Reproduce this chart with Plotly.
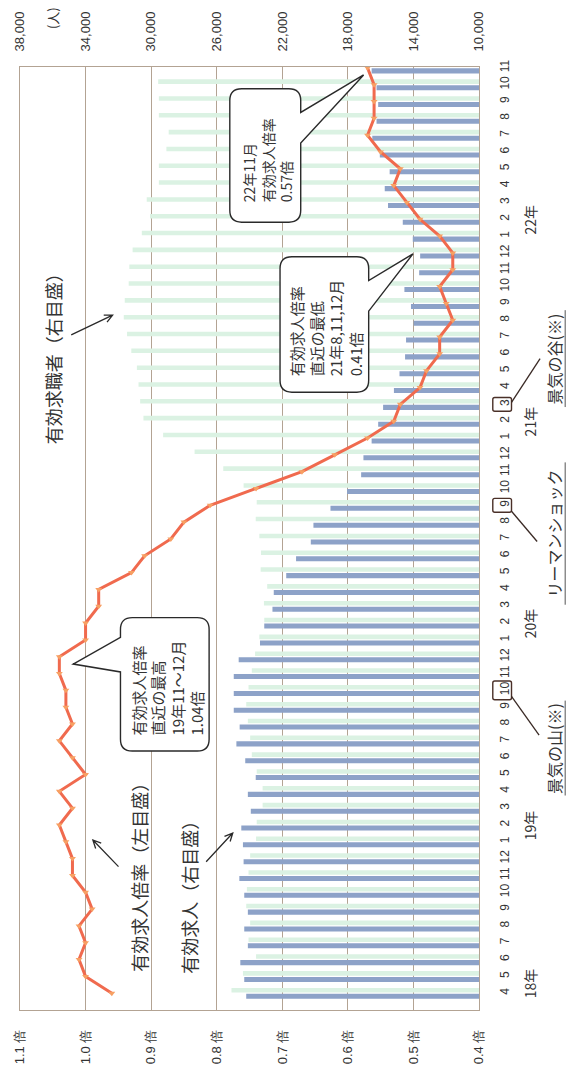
import plotly.graph_objects as go
import math

# ---------------- data ----------------
month_labels = [str(m) for m in list(range(4, 13)) + list(range(1, 13)) * 3 + list(range(1, 12))]
year_labels = ["18年", "19年", "20年", "21年", "22年"]
year_pos = [0.6, 10, 22, 34, 46]

ratio = [0.96, 1.00, 1.01, 1.00, 1.01, 0.99, 1.00, 1.02, 1.02, 1.03, 1.04, 1.02, 1.04, 1.00,
         1.02, 1.04, 1.02, 1.03, 1.03, 1.04, 1.04, 1.00, 1.00, 0.98, 0.98, 0.93, 0.91, 0.87,
         0.85, 0.81, 0.74, 0.67, 0.62, 0.57, 0.53, 0.52, 0.49, 0.48, 0.46, 0.46, 0.44, 0.45,
         0.46, 0.44, 0.44, 0.46, 0.49, 0.51, 0.53, 0.52, 0.55, 0.57, 0.56, 0.56, 0.56, 0.57]

openings = [24200, 24320, 24560, 24100, 24320, 24100, 24320, 24620, 24360, 24400, 24500, 23920,
            24100, 23620, 24260, 24800, 24600, 24960, 24960, 24960, 24660, 23360, 23100, 22600,
            22520, 21760, 21160, 20260, 20100, 19060, 18050, 17190, 17050, 16550, 16150, 15850,
            15190, 14850, 14510, 14450, 13990, 14150, 14550, 13650, 13590, 14040, 14650, 15550,
            15750, 15450, 16050, 16510, 16250, 16150, 16250, 16550]

seekers = [25100, 24400, 23600, 24060, 23960, 24200, 24160, 24060, 23960, 23600, 23560, 23200,
           23200, 23560, 23860, 23960, 24100, 24200, 24060, 23860, 23660, 23400, 23100, 23120,
           22920, 23320, 23300, 23400, 23620, 23560, 24360, 25600, 27350, 29270, 30470, 30670,
           30770, 30870, 31210, 31470, 31670, 31610, 31370, 31330, 31130, 30570, 30070, 30270,
           29530, 29530, 29070, 28930, 29530, 29530, 29570, None]

people_ticks = [38000, 34000, 30000, 26000, 22000, 18000, 14000, 10000]
ratio_ticks = [1.1, 1.0, 0.9, 0.8, 0.7, 0.6, 0.5, 0.4]

idx = list(range(len(month_labels)))

# ---------------- layout geometry (pixels) ----------------
W, H = 568, 1076
L, R, T, B = 13, 479, 66, 1020
PW, PH = R - L, B - T
Y_BOTTOM, Y_TOP = -0.997, 55.05
STEP = PH / (Y_TOP - Y_BOTTOM)
INK = "#333333"
FRAME = "#b3a393"
JP = "Noto Sans CJK JP"
NUM = "Liberation Sans"


def px(x, y):
    return (x - L) / PW, (B - y) / PH


def ypix(i):
    return B - (i - Y_BOTTOM) * STEP


def path_str(cmds_list):
    out = []
    for cmd in cmds_list:
        s = cmd[0]
        nums = cmd[1:]
        for k in range(0, len(nums), 2):
            xp, yp = px(nums[k], nums[k + 1])
            s += f" {xp:.5f},{yp:.5f}"
        out.append(s)
    return " ".join(out)


def callout(x0, y0, x1, y1, r, side, t1, t2, tip):
    cmds = [("M", x0 + r, y0), ("L", x1 - r, y0), ("Q", x1, y0, x1, y0 + r)]
    if side == "right":
        cmds += [("L", x1, t1), ("L", tip[0], tip[1]), ("L", x1, t2)]
    cmds += [("L", x1, y1 - r), ("Q", x1, y1, x1 - r, y1), ("L", x0 + r, y1),
             ("Q", x0, y1, x0, y1 - r)]
    if side == "left":
        cmds += [("L", x0, t2), ("L", tip[0], tip[1]), ("L", x0, t1)]
    cmds += [("L", x0, y0 + r), ("Q", x0, y0, x0 + r, y0)]
    return dict(type="path", xref="paper", yref="paper", path=path_str(cmds) + " Z",
                line=dict(color="#2a2a2a", width=1.4), fillcolor="white", layer="above")


def varrow(tx, ty, hx, hy, size=9):
    ang = math.atan2(ty - hy, tx - hx)
    w1 = (hx + size * math.cos(ang + 0.45), hy + size * math.sin(ang + 0.45))
    w2 = (hx + size * math.cos(ang - 0.45), hy + size * math.sin(ang - 0.45))
    cmds = [("M", tx, ty), ("L", hx, hy), ("M", w1[0], w1[1]), ("L", hx, hy), ("L", w2[0], w2[1])]
    return dict(type="path", xref="paper", yref="paper", path=path_str(cmds),
                line=dict(color="#2a2a2a", width=1.3), layer="above")


def seg(x0, y0, x1, y1, color="#3a2a25", width=1.3):
    a, b = px(x0, y0)
    c, d = px(x1, y1)
    return dict(type="line", xref="paper", yref="paper", x0=a, y0=b, x1=c, y1=d,
                line=dict(color=color, width=width), layer="above")


def rbox(x0, y0, x1, y1):
    cmds = [("M", x0 + 2, y0), ("L", x1 - 2, y0), ("Q", x1, y0, x1, y0 + 2), ("L", x1, y1 - 2),
            ("Q", x1, y1, x1 - 2, y1), ("L", x0 + 2, y1), ("Q", x0, y1, x0, y1 - 2),
            ("L", x0, y0 + 2), ("Q", x0, y0, x0 + 2, y0)]
    return dict(type="path", xref="paper", yref="paper", path=path_str(cmds) + " Z",
                line=dict(color="#4a3028", width=1.4), layer="above")


def text_at(x, y, text, size, align="center", family=JP):
    xp, yp = px(x, y)
    return dict(x=xp, y=yp, xref="paper", yref="paper", text=text, showarrow=False,
                textangle=-90, xanchor="center", yanchor="middle", align=align,
                font=dict(family=family, size=size, color=INK))


# ---------------- traces ----------------
fig = go.Figure()
fig.add_trace(go.Bar(y=idx, x=seekers, orientation="h", xaxis="x", yaxis="y",
                     marker=dict(color="#dbf2e3", line=dict(width=0)),
                     width=0.27, offset=0.045, name="有効求職者"))
fig.add_trace(go.Bar(y=idx, x=openings, orientation="h", xaxis="x", yaxis="y",
                     marker=dict(color="#8da2c8", line=dict(width=0)),
                     width=0.30, offset=-0.33, name="有効求人"))
fig.add_trace(go.Scatter(y=idx, x=ratio, xaxis="x2", yaxis="y", mode="lines+markers",
                         line=dict(color="#f06a4e", width=3),
                         marker=dict(symbol="triangle-down", size=6, color="#f7a063"),
                         cliponaxis=False, name="有効求人倍率"))

# ---------------- shapes ----------------
shapes = []
tip1 = (L + (1.1 - ratio[-1]) / 0.7 * PW - 4, 74)
shapes.append(callout(226, 88, 298, 223, 12, "right", 112, 143, tip1))
shapes.append(callout(277, 258, 367, 395, 12, "right", 282, 313, (412, 255)))
shapes.append(callout(115, 623, 205, 758, 12, "left", 643, 678, (67, 670)))
shapes.append(varrow(65, 337, 107, 317))
shapes.append(varrow(113, 875, 87, 848))
shapes.append(varrow(202, 870, 229, 841))
# right-side boxes around months (21年3, 20年9, 19年10)
for i_mark, half, line_end in [(35, 9.5, (541, 361)), (29, 9, (538, 546)), (18, 10, (540, 742))]:
    yc = ypix(i_mark)
    shapes.append(rbox(493, yc - 7 if half < 10 else yc - 9.5, 512, yc + 7 if half < 10 else yc + 9.5))
    yl = yc - 2 if line_end[1] < yc else yc + 6
    shapes.append(seg(512, yl, line_end[0], line_end[1]))
# underlines
shapes.append(seg(566.5, 312, 566.5, 410, color="#555555", width=1))
shapes.append(seg(566.5, 466, 566.5, 610, color="#555555", width=1))
shapes.append(seg(566.5, 707, 566.5, 803, color="#555555", width=1))

# ---------------- annotations ----------------
ann = []
ann.append(text_at(46, 357, "有効求職者（右目盛）", 18))
ann.append(text_at(133, 881, "有効求人倍率（左目盛）", 18))
ann.append(text_at(185, 901, "有効求人（右目盛）", 18))
ann.append(text_at(264, 160, "22年11月<br>有効求人倍率<br>0.57倍", 14, align="left"))
ann.append(text_at(324, 330, "有効求人倍率<br>直近の最低<br>21年8,11,12月<br>0.41倍", 15, align="left"))
ann.append(text_at(163, 694, "有効求人倍率<br>直近の最高<br>19年11～12月<br>1.04倍", 15, align="left"))
ann.append(text_at(555, 361, "景気の谷(※)", 16))
ann.append(text_at(555, 538, "リーマンショック", 16))
ann.append(text_at(555, 755, "景気の山(※)", 16))
ann.append(text_at(46, 17, "(人)", 13))
for lab, pos in zip(year_labels, year_pos):
    ann.append(text_at(531, ypix(pos), lab, 14))

fig.update_layout(
    width=W, height=H,
    margin=dict(l=L, r=W - R, t=T, b=H - B, pad=0),
    paper_bgcolor="white", plot_bgcolor="white",
    showlegend=False, barmode="overlay",
    xaxis=dict(side="top", range=[38000, 10000], tickvals=people_ticks,
               ticktext=[f"{v:,}" for v in people_ticks], tickangle=-90,
               tickfont=dict(family=NUM, size=13, color=INK),
               showgrid=True, gridcolor=FRAME, gridwidth=1,
               showline=True, linecolor=FRAME, linewidth=1, mirror=True,
               ticks="", ticklabelstandoff=12, zeroline=False, fixedrange=True),
    xaxis2=dict(overlaying="x", side="bottom", range=[1.1, 0.4], tickvals=ratio_ticks,
                ticktext=[f"{v:.1f} 倍" for v in ratio_ticks], tickangle=-90,
                tickfont=dict(family=NUM, size=13, color=INK),
                showgrid=False, showline=False, ticks="", ticklabelstandoff=16,
                zeroline=False),
    yaxis=dict(side="right", range=[Y_BOTTOM, Y_TOP], tickvals=idx, ticktext=month_labels,
               tickangle=-90, tickfont=dict(family=NUM, size=12, color=INK),
               showgrid=False, showline=True, linecolor=FRAME, linewidth=1, mirror=True,
               ticks="", ticklabelstandoff=15, zeroline=False),
    shapes=shapes, annotations=ann,
)

fig.write_html("out.html")
